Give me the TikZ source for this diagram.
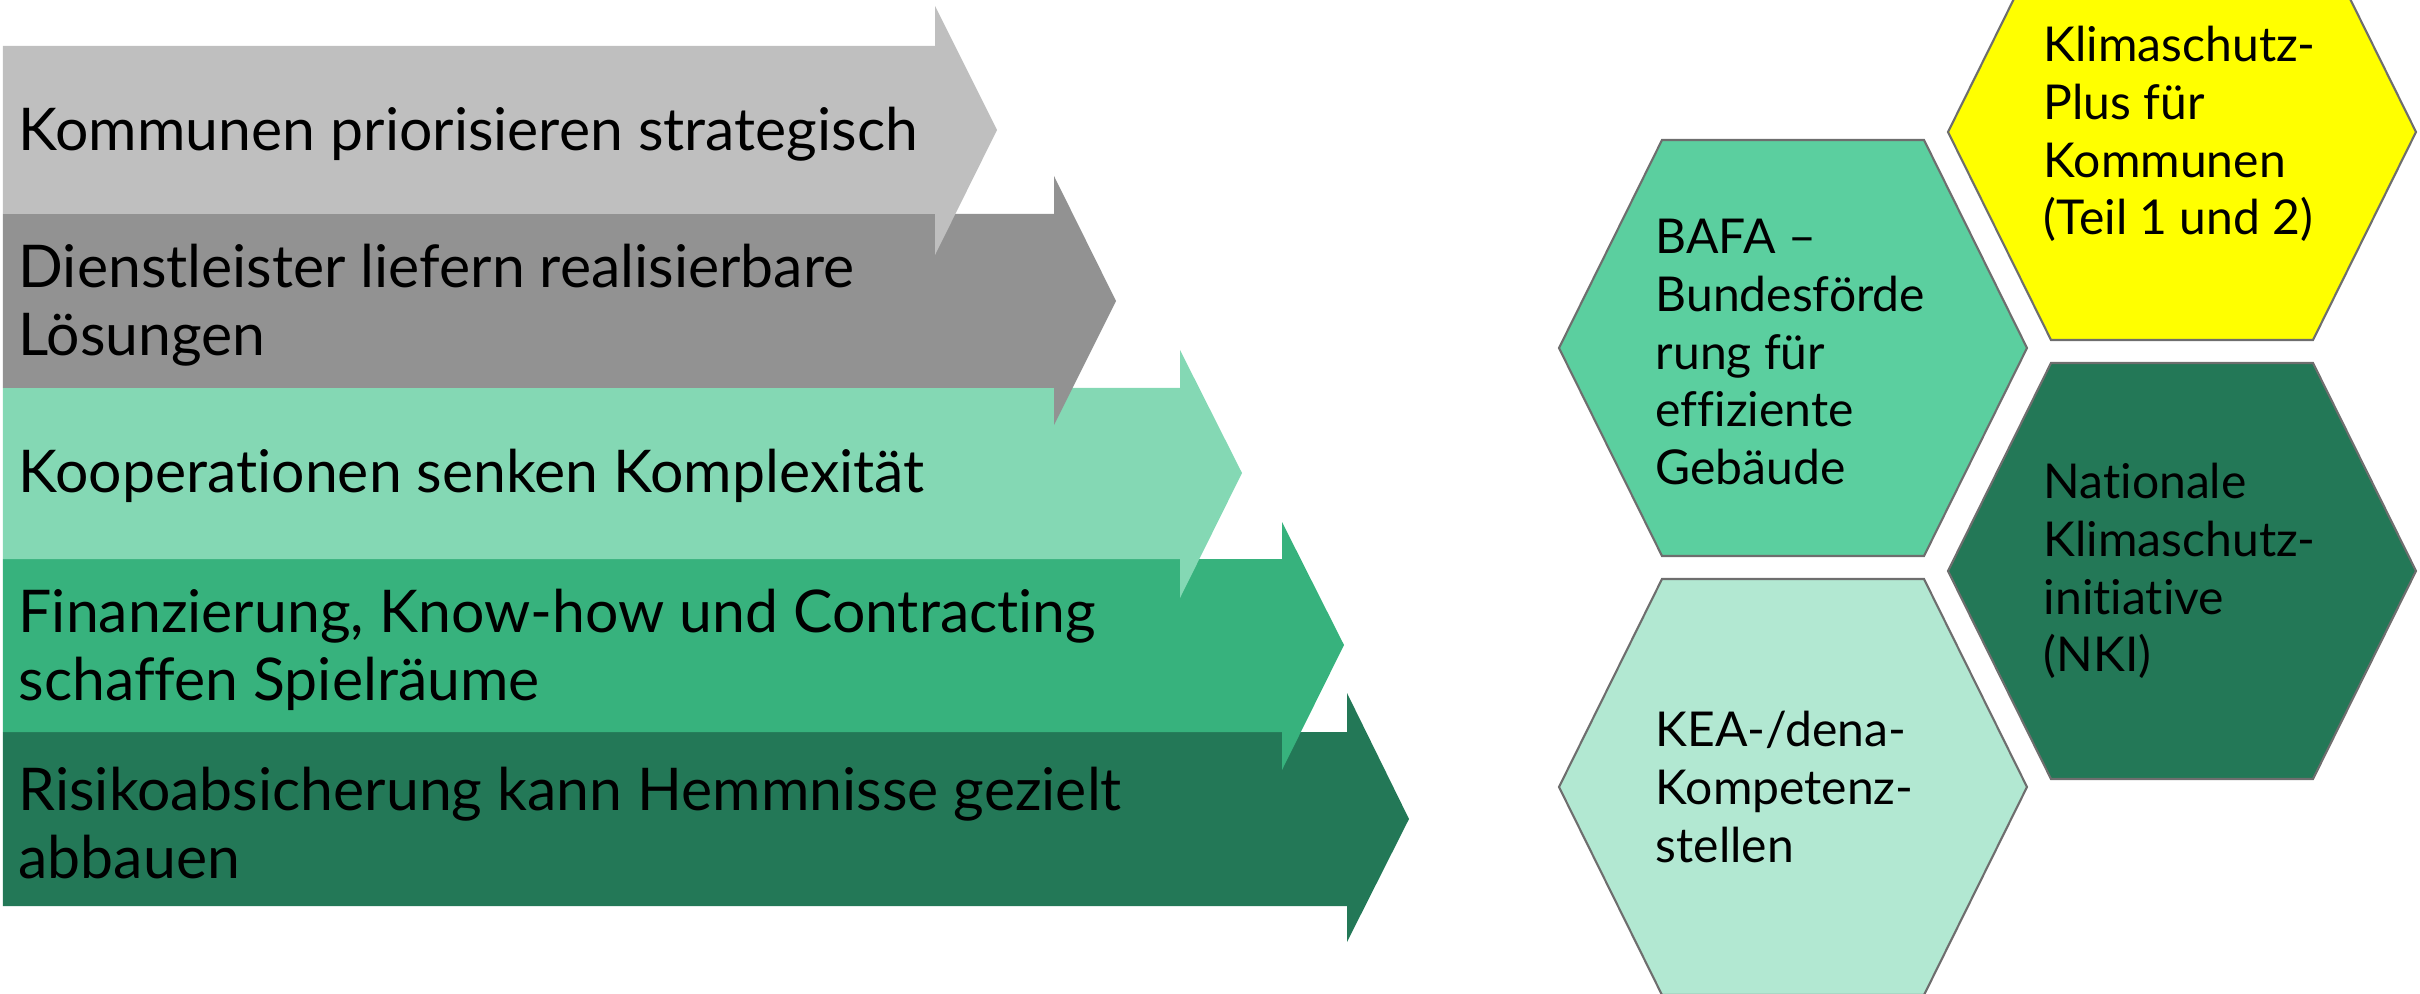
\documentclass[tikz,border=0pt]{standalone}
\usepackage{fontspec}
\setmainfont{Lato}[Ligatures={NoCommon}]
\definecolor{arA}{HTML}{BFBFBF}
\definecolor{arB}{HTML}{929292}
\definecolor{arC}{HTML}{84D8B4}
\definecolor{arD}{HTML}{37B27D}
\definecolor{arE}{HTML}{237857}
\definecolor{hxBafa}{HTML}{5BCF9F}
\definecolor{hxKea}{HTML}{B2E8D2}
\definecolor{hxYel}{HTML}{FFFF00}
\definecolor{hxNki}{HTML}{237857}
\definecolor{hxLine}{HTML}{6E6E6E}
\begin{document}
\begin{tikzpicture}[x=0.01cm,y=-0.01cm,
  arrowtxt/.style={anchor=west, align=left, inner sep=0pt, font=\fontsize{16.75}{19.3}\selectfont},
  hextxt/.style={anchor=west, align=left, inner sep=0pt, font=\fontsize{13.66}{16.4}\selectfont},
  hexshape/.style={draw=hxLine, line width=0.6pt, line join=miter}]
\useasboundingbox (0,0) rectangle (2420,994);
% arrows, bottom first so upper heads lie on top
\fill[arE] (3,732) -- (1347,732) -- (1347,693) -- (1409,819) -- (1347,942) -- (1347,906) -- (3,906) -- cycle;
\fill[arD] (3,559) -- (1282,559) -- (1282,522) -- (1344,645) -- (1282,770) -- (1282,732) -- (3,732) -- cycle;
\fill[arC] (3,388) -- (1180,388) -- (1180,350) -- (1242,473) -- (1180,598) -- (1180,559) -- (3,559) -- cycle;
\fill[arB] (3,214) -- (1054,214) -- (1054,176) -- (1116,301) -- (1054,425) -- (1054,388) -- (3,388) -- cycle;
\fill[arA] (3,46) -- (935,46) -- (935,6) -- (997,130) -- (935,255) -- (935,214) -- (3,214) -- cycle;
\node[arrowtxt] (t1) at (18,134) {Kommunen priorisieren strategisch};
\node[arrowtxt] (t2) at (18,305) {Dienstleister liefern realisierbare\\Lösungen};
\node[arrowtxt] (t3) at (18,476) {Kooperationen senken Komplexität};
\node[arrowtxt] (t4) at (18,650) {Finanzierung, Know-how und Contracting\\schaffen Spielräume};
\node[arrowtxt] (t5) at (18,823) {Risikoabsicherung kann Hemmnisse gezielt\\abbauen};
% hexagons
\draw[hexshape, fill=hxBafa] (1559,348) -- (1662,140) -- (1924,140) -- (2027,348) -- (1924,556) -- (1662,556) -- cycle;
\draw[hexshape, fill=hxKea] (1559,787) -- (1662,579) -- (1924,579) -- (2027,787) -- (1924,995) -- (1662,995) -- cycle;
\draw[hexshape, fill=hxYel] (1948,132) -- (2051,-76) -- (2313,-76) -- (2416,132) -- (2313,340) -- (2051,340) -- cycle;
\draw[hexshape, fill=hxNki] (1948,571) -- (2051,363) -- (2313,363) -- (2416,571) -- (2313,779) -- (2051,779) -- cycle;
\node[hextxt] (bafa) at (1655,352) {BAFA –\\Bundesförde\\rung für\\effiziente\\Gebäude};
\node[hextxt] (kea) at (1655,787) {KEA-/dena-\\Kompetenz-\\stellen};
\node[hextxt] (kpk) at (2043,134) {Klimaschutz-\\Plus für\\Kommunen\\(Teil 1 und 2)};
\node[hextxt] (nki) at (2043,571) {Nationale\\Klimaschutz-\\initiative\\(NKI)};
\end{tikzpicture}
\end{document}
